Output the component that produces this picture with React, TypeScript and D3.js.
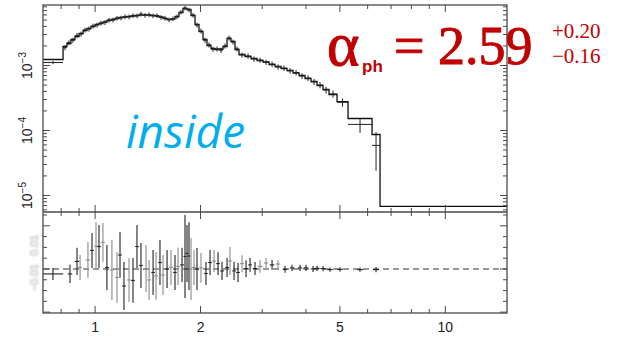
import React from "react";
import * as d3 from "d3";

// ---- spectrum (upper panel) ----
const binEdges = [0.71, 0.81, 0.831, 0.853, 0.876, 0.9, 0.924, 0.948, 0.973, 1.0, 1.026, 1.053, 1.081, 1.11, 1.14, 1.17, 1.201, 1.234, 1.266, 1.3, 1.335, 1.37, 1.407, 1.444, 1.483, 1.522, 1.563, 1.605, 1.647, 1.691, 1.736, 1.782, 1.83, 1.879, 1.929, 1.98, 2.033, 2.087, 2.143, 2.2, 2.259, 2.319, 2.381, 2.444, 2.509, 2.576, 2.68, 2.788, 2.9, 3.017, 3.138, 3.265, 3.396, 3.532, 3.675, 3.823, 3.976, 4.136, 4.302, 4.475, 4.655, 4.907, 5.275, 6.177, 6.51, 15.0];

const modelFlux = [
  1.237e-3, 1.96e-3, 2.18e-3, 2.512e-3, 2.794e-3, 3.108e-3, 3.455e-3, 3.709e-3, 3.981e-3, 4.273e-3,
  4.427e-3, 4.668e-3, 4.923e-3, 5.1e-3, 5.284e-3, 5.476e-3, 5.574e-3, 5.674e-3, 5.776e-3, 5.879e-3,
  5.984e-3, 5.984e-3, 5.984e-3, 5.879e-3, 5.776e-3, 5.574e-3, 5.284e-3, 5.1e-3, 5.191e-3, 5.674e-3,
  6.537e-3, 7.534e-3, 7.272e-3, 5.879e-3, 4.273e-3, 3.33e-3, 2.512e-3, 2.03e-3, 1.826e-3, 1.763e-3,
  1.795e-3, 1.96e-3, 2.603e-3, 2.34e-3, 1.763e-3, 1.476e-3, 1.375e-3, 1.281e-3, 1.194e-3, 1.132e-3,
  1.036e-3, 9.65e-4, 8.99e-4, 8.38e-4, 7.67e-4, 7.02e-4, 6.31e-4, 5.67e-4, 4.92e-4, 4.27e-4,
  3.58e-4, 2.79e-4, 1.53e-4, 8.68e-5, 6.78e-6,
];

const dataFlux: (number | null)[] = [
  1.11e-3, 1.88e-3, 2.25e-3, 2.45e-3, 2.9e-3, 3.05e-3, 3.52e-3, 3.65e-3, 4.05e-3, 4.2e-3,
  4.5e-3, 4.6e-3, 5.0e-3, 5.02e-3, 5.36e-3, 5.4e-3, 5.65e-3, 5.6e-3, 5.85e-3, 5.8e-3,
  6.2e-3, 5.92e-3, 6.05e-3, 5.82e-3, 5.84e-3, 5.5e-3, 5.35e-3, 5.05e-3, 5.25e-3, 5.6e-3,
  6.6e-3, 7.65e-3, 7.15e-3, 5.95e-3, 4.2e-3, 3.4e-3, 2.45e-3, 2.08e-3, 1.78e-3, 1.8e-3,
  1.72e-3, 2.0e-3, 2.65e-3, 2.3e-3, 1.8e-3, 1.45e-3, 1.4e-3, 1.26e-3, 1.21e-3, 1.12e-3,
  1.05e-3, 9.5e-4, 9.1e-4, 8.3e-4, 7.8e-4, 6.9e-4, 6.4e-4, 5.6e-4, 5.0e-4, 4.2e-4,
  3.65e-4, 2.72e-4, 1.24e-4, 5.9e-5, null,
];

const dataErr = [
  0.06e-3, 0.17e-3, 0.2e-3, 0.22e-3, 0.26e-3, 0.27e-3, 0.3e-3, 0.32e-3, 0.35e-3, 0.36e-3,
  0.38e-3, 0.39e-3, 0.42e-3, 0.42e-3, 0.44e-3, 0.44e-3, 0.46e-3, 0.46e-3, 0.47e-3, 0.47e-3,
  0.5e-3, 0.48e-3, 0.49e-3, 0.47e-3, 0.47e-3, 0.45e-3, 0.44e-3, 0.42e-3, 0.43e-3, 0.46e-3,
  0.52e-3, 0.6e-3, 0.56e-3, 0.48e-3, 0.36e-3, 0.3e-3, 0.22e-3, 0.19e-3, 0.16e-3, 0.16e-3,
  0.16e-3, 0.18e-3, 0.23e-3, 0.2e-3, 0.16e-3, 0.13e-3, 0.13e-3, 0.12e-3, 0.11e-3, 0.1e-3,
  1.0e-4, 9e-5, 8.5e-5, 8e-5, 7.5e-5, 7e-5, 6.5e-5, 6e-5, 5.5e-5, 5e-5,
  4.5e-5, 4e-5, 3.2e-5, 3.5e-5, 0,
];

// ---- residuals (lower panel, units of 1e-3) ----
const resEnergy = [
  0.758, 0.848, 0.888, 0.906, 0.954, 0.98, 1.006, 1.026, 1.053, 1.081,
  1.117, 1.155, 1.178, 1.209, 1.25, 1.283, 1.317, 1.352, 1.398, 1.426,
  1.464, 1.493, 1.532, 1.563, 1.605, 1.647, 1.691, 1.725, 1.771, 1.806,
  1.83, 1.854, 1.879, 1.916, 1.954, 2.006, 2.073, 2.129, 2.186, 2.244,
  2.304, 2.381, 2.428, 2.493, 2.559, 2.627, 2.698, 2.77, 2.862, 2.958,
  3.077, 3.201, 3.329, 3.486, 3.65, 3.848, 4.002, 4.191, 4.302, 4.475,
  4.686, 5.005, 5.706, 6.341,
];
// half bin width as a multiplicative factor in energy
const resBinFactor = [
  1.07, 1.015, 1.015, 1.012, 1.015, 1.012, 1.012, 1.012, 1.012, 1.012,
  1.012, 1.012, 1.012, 1.012, 1.012, 1.012, 1.012, 1.012, 1.012, 1.012,
  1.012, 1.012, 1.012, 1.012, 1.012, 1.012, 1.012, 1.012, 1.012, 1.01,
  1.01, 1.01, 1.01, 1.012, 1.012, 1.012, 1.012, 1.012, 1.012, 1.012,
  1.012, 1.012, 1.012, 1.012, 1.012, 1.012, 1.012, 1.012, 1.015, 1.015,
  1.015, 1.015, 1.015, 1.015, 1.015, 1.015, 1.015, 1.015, 1.018, 1.018,
  1.018, 1.018, 1.02, 1.02,
];
const resValue = [
  -2.3, -2.3, 3.5, 0.7, 4.2, 8.6, 10.6, 10.4, 12.3, 0.7,
  -0.5, -3.9, 6.5, -7.9, -5.1, -5.3, 10.4, 1.6, 0.2, -5.1,
  -1.6, -3.2, 3.0, -2.8, 0, 0.7, -1.6, 1.2, 1.9, 5.8,
  7.2, 6.0, 0, 0.7, 0, 0.5, -2.1, 3.0, 3.7, 2.5,
  -0.9, 0.7, 3.7, -0.9, -1.6, 2.5, 0.2, 1.9, 0.2, 1.2,
  2.8, 1.9, 2.3, -0.2, 0.5, 0.5, 0.5, 0, 0.3, 0.2,
  -0.3, -0.2, -0.3, -0.3,
];
const resErr = [
  2.8, 4.2, 6.3, 5.8, 8.3, 8.1, 11.1, 10.0, 9.0, 10.4,
  13.9, 11.8, 10.6, 11.1, 10.2, 10.4, 10.0, 10.4, 10.9, 9.3,
  10.4, 11.1, 10.4, 9.3, 8.8, 8.1, 8.1, 8.6, 7.9, 19.2,
  13.2, 15.7, 14.4, 8.1, 9.7, 6.9, 5.3, 5.8, 5.1, 5.3,
  4.2, 4.4, 6.5, 4.2, 4.4, 3.9, 3.9, 3.2, 3.0, 3.0,
  2.3, 2.3, 1.9, 1.6, 1.4, 1.4, 1.4, 1.4, 1.2, 1.2,
  1.0, 1.0, 1.0, 1.2,
];
const resDetector = [
  "b", "b", "b", "g", "g", "b", "g", "b", "g", "b",
  "g", "g", "b", "b", "g", "b", "b", "b", "g", "g",
  "b", "g", "b", "g", "b", "g", "b", "g", "b", "b",
  "b", "b", "g", "g", "b", "g", "b", "b", "g", "b",
  "b", "b", "g", "b", "b", "g", "b", "b", "b", "g",
  "g", "b", "g", "b", "b", "b", "b", "b", "b", "b",
  "b", "b", "b", "b",
];

// ---- ticks ----
const xMajorTicks = [1, 2, 5, 10];
const xTickLabels = ["1", "2", "5", "10"];
const xMinorTicks = [0.8, 0.9, 3, 4, 6, 7, 8, 9];
const yMajorTicks = [1e-3, 1e-4, 1e-5];
const yTickExponents = ["−3", "−4", "−5"];
const resTicks = [-20, -15, -10, -5, 0, 5, 10, 15, 20, 25];
const resFaintLabels = ["0.01", "−0.01"];
const resFaintPos = [11, -4];

const SERIF = "'Liberation Serif', 'Times New Roman', serif";
const SANS = "'Liberation Sans', Arial, sans-serif";

export default function App() {
  const W = 618, H = 337;
  const left = 43, right = 507, top = 5, mid = 212, bottom = 313;

  const x = d3.scaleLog().domain([0.71, 15]).range([left, right]);
  const y = d3.scaleLog().domain([5.57e-6, 8.53e-3]).range([mid, top]);
  const yr = d3.scaleLinear().domain([-20.4, 26.4]).range([bottom, mid]);

  const nb = modelFlux.length;
  const modelPts: [number, number][] = binEdges.map((e, i) => [e, modelFlux[Math.min(i, nb - 1)]]);
  const modelLine = d3
    .line<[number, number]>()
    .x((d) => x(d[0]))
    .y((d) => y(d[1]))
    .curve(d3.curveStepAfter)(modelPts) as string;

  const yMinor = y
    .ticks()
    .filter((v) => {
      const l = Math.log10(v);
      return Math.abs(l - Math.round(l)) > 1e-6 && v >= 5.57e-6 && v <= 8.53e-3;
    });

  const axisColor = "#4a4a4a";
  const sw = 1.3;
  const majLen = 7, minLen = 4;

  return (
    <svg width={W} height={H} style={{ position: "absolute", left: 0, top: 0, background: "#fff" }}>
      <defs>
        <filter id="blur" x="-20%" y="-20%" width="140%" height="140%">
          <feGaussianBlur stdDeviation="0.9" />
        </filter>
      </defs>

      {/* model */}
      <path d={modelLine} fill="none" stroke="#111" strokeWidth={1.3} />

      {/* data crosses */}
      {dataFlux.map((f, i) => {
        if (f == null) return null;
        const lo = binEdges[i], hi = binEdges[i + 1];
        const c = Math.sqrt(lo * hi);
        const e = dataErr[i];
        return (
          <g key={"d" + i} stroke="#222" strokeWidth={1}>
            <line x1={x(lo)} x2={x(hi)} y1={y(f)} y2={y(f)} />
            <line x1={x(c)} x2={x(c)} y1={y(f + e)} y2={y(Math.max(f - e, 6e-6))} />
          </g>
        );
      })}

      {/* residual zero line */}
      <line x1={left} x2={right} y1={yr(0)} y2={yr(0)} stroke="#333" strokeWidth={1.1} strokeDasharray="6,4" />

      {/* residuals */}
      {resEnergy.map((e, i) => {
        const col = resDetector[i] === "g" ? "#8a8a8a" : "#222";
        const v = resValue[i], er = resErr[i], f = resBinFactor[i];
        return (
          <g key={"r" + i} stroke={col} strokeWidth={1.1}>
            <line x1={x(e)} x2={x(e)} y1={yr(v + er)} y2={yr(v - er)} />
            <line x1={x(Math.max(e / f, 0.71))} x2={x(e * f)} y1={yr(v)} y2={yr(v)} />
          </g>
        );
      })}

      {/* frames */}
      <rect x={left} y={top} width={right - left} height={bottom - top} fill="none" stroke={axisColor} strokeWidth={sw} />
      <line x1={left} x2={right} y1={mid} y2={mid} stroke={axisColor} strokeWidth={sw} />

      {/* x ticks on all horizontal edges */}
      {[...xMajorTicks.map((v) => [v, majLen]), ...xMinorTicks.map((v) => [v, minLen])].map(([v, len], i) => (
        <g key={"xt" + i} stroke={axisColor} strokeWidth={1}>
          <line x1={x(v)} x2={x(v)} y1={top} y2={top + len} />
          <line x1={x(v)} x2={x(v)} y1={mid} y2={mid - len} />
          <line x1={x(v)} x2={x(v)} y1={mid} y2={mid + len} />
          <line x1={x(v)} x2={x(v)} y1={bottom} y2={bottom - len} />
        </g>
      ))}

      {/* y ticks upper */}
      {[...yMajorTicks.map((v) => [v, majLen]), ...yMinor.map((v) => [v, minLen])].map(([v, len], i) => (
        <g key={"yt" + i} stroke={axisColor} strokeWidth={1}>
          <line x1={left} x2={left + len} y1={y(v)} y2={y(v)} />
          <line x1={right} x2={right - len} y1={y(v)} y2={y(v)} />
        </g>
      ))}

      {/* y ticks residual */}
      {resTicks.map((v, i) => {
        const len = v % 20 === 0 ? majLen : minLen;
        return (
          <g key={"rt" + i} stroke={axisColor} strokeWidth={1}>
            <line x1={left} x2={left + len} y1={yr(v)} y2={yr(v)} />
            <line x1={right} x2={right - len} y1={yr(v)} y2={yr(v)} />
          </g>
        );
      })}

      {/* x tick labels */}
      {xMajorTicks.map((v, i) => (
        <text key={"xl" + i} x={x(v)} y={332} textAnchor="middle" fontFamily={SANS} fontSize={14} fill="#222">
          {xTickLabels[i]}
        </text>
      ))}

      {/* y tick labels (rotated) */}
      {yMajorTicks.map((v, i) => (
        <text
          key={"yl" + i}
          transform={`translate(32,${y(v)}) rotate(-90)`}
          textAnchor="middle"
          fontFamily={SANS}
          fontSize={14}
          fill="#222"
        >
          10
          <tspan dy={-6} fontSize={10}>
            {yTickExponents[i]}
          </tspan>
        </text>
      ))}

      {/* faint residual labels */}
      {resFaintLabels.map((t, i) => (
        <text
          key={"fl" + i}
          transform={`translate(38,${yr(resFaintPos[i])}) rotate(-90)`}
          textAnchor="middle"
          fontFamily={SANS}
          fontSize={11}
          fill="#a8a8a8"
          filter="url(#blur)"
        >
          {t}
        </text>
      ))}

      {/* annotations */}
      <text x={126} y={148} fontFamily="'Open Sans', sans-serif" fontStyle="italic" fontSize={46} fill="#00AEEF">
        inside
      </text>
      <text x={327} y={65} fontFamily={SERIF} fontSize={62} fill="#C00000" stroke="#C00000" strokeWidth={1}>
        α
      </text>
      <text x={362} y={72} fontFamily={SANS} fontWeight="bold" fontSize={17} fill="#C00000">
        ph
      </text>
      <text x={394} y={64} fontFamily={SERIF} fontSize={54} fill="#C00000" stroke="#C00000" strokeWidth={0.9}>
        = 2.59
      </text>
      <text x={552} y={38} fontFamily={SERIF} fontSize={21} fill="#C00000">
        +0.20
      </text>
      <text x={552} y={63} fontFamily={SERIF} fontSize={21} fill="#C00000">
        −0.16
      </text>
    </svg>
  );
}
